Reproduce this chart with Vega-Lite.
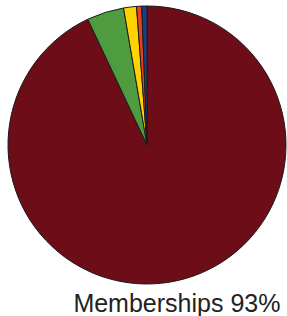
{
  "$schema": "https://vega.github.io/schema/vega-lite/v6.json",
  "width": 294,
  "height": 290,
  "autosize": {"type": "none"},
  "padding": {"top": 0, "left": 0, "right": 0, "bottom": 26},
  "background": "white",
  "view": {"stroke": null},
  "data": {
    "values": [
      {"category": "Memberships", "share": 93.0, "rank": 1, "label": "Memberships 93%"},
      {"category": "Donations", "share": 4.3, "rank": 2, "label": ""},
      {"category": "Events", "share": 1.5, "rank": 3, "label": ""},
      {"category": "Sponsorship", "share": 0.6, "rank": 4, "label": ""},
      {"category": "Other", "share": 0.6, "rank": 5, "label": ""}
    ]
  },
  "encoding": {
    "theta": {"field": "share", "type": "quantitative", "stack": true},
    "order": {"field": "rank", "type": "quantitative"}
  },
  "layer": [
    {
      "mark": {"type": "arc", "outerRadius": 139, "stroke": "#1a1a1a", "strokeWidth": 1},
      "encoding": {
        "color": {
          "field": "category",
          "type": "nominal",
          "scale": {
            "domain": ["Memberships", "Donations", "Events", "Sponsorship", "Other"],
            "range": ["#6d0d18", "#4f9c40", "#ffd200", "#e8412a", "#1b3f86"]
          },
          "legend": null
        }
      }
    },
    {
      "mark": {"type": "text", "radius": 160, "fontSize": 25, "font": "Liberation Sans", "fill": "#222222", "dx": -5, "dy": 3},
      "encoding": {"text": {"field": "label"}}
    }
  ]
}
